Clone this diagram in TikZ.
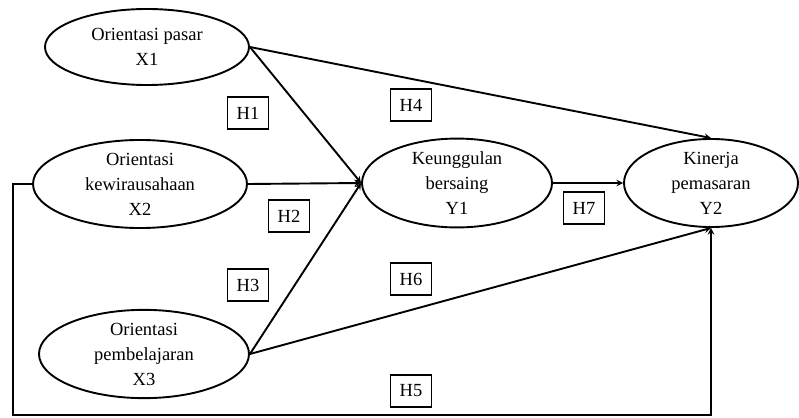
\documentclass[tikz,border=0pt]{standalone}
\usepackage{fontspec}
\setmainfont{Liberation Serif}
\usepackage{tikz}
\usetikzlibrary{positioning,shapes.geometric}

\begin{document}
\begin{tikzpicture}[x=1pt, y=-1pt, >=stealth, line width=1.9pt,
    var/.style={draw, ellipse, align=center, inner sep=0pt, font=\fontsize{18.5}{25}\selectfont},
    hyp/.style={draw, rectangle, line width=1.6pt, minimum width=41pt, minimum height=32pt, inner sep=0pt, font=\fontsize{18.5}{22}\selectfont}]
        \useasboundingbox (0,0) rectangle (799,417);
        \node[var, minimum width=204pt, minimum height=76pt] (X1) at (147,47) {Orientasi pasar\\X1};
        \node[var, minimum width=214pt, minimum height=72pt] (X2) at (140,184) {Orientasi\\kewirausahaan\\X2};
        \node[var, minimum width=210pt, minimum height=82pt] (X3) at (144,354) {Orientasi\\pembelajaran\\X3};
        \node[var, minimum width=190pt, minimum height=84pt] (Y1) at (457,183) {Keunggulan\\bersaing\\Y1};
        \node[var, minimum width=174pt, minimum height=84pt] (Y2) at (711,183) {Kinerja\\pemasaran\\Y2};

        \node[hyp] (H1) at (248,113) {H1};
        \node[hyp] (H2) at (289,216) {H2};
        \node[hyp] (H3) at (248,285) {H3};
        \node[hyp] (H4) at (411,105) {H4};
        \node[hyp] (H5) at (411,391) {H5};
        \node[hyp] (H6) at (411,279) {H6};
        \node[hyp] (H7) at (584,208) {H7};

        \coordinate (c5) at (13,415);

        \draw[->] (X1.east) -- (Y1.west);
        \draw[->] (X2.east) -- (Y1.west);
        \draw[->] (X3.east) -- (Y1.west);
        \draw[->] (X1.east) -- (Y2.north);
        \draw[->] (Y1.east) -- (Y2.west);
        \draw[->] (X3.east) -- (Y2.south);
        \draw[->] (X2.west) -| (c5) -| (Y2.south);

    \end{tikzpicture}
\end{document}
